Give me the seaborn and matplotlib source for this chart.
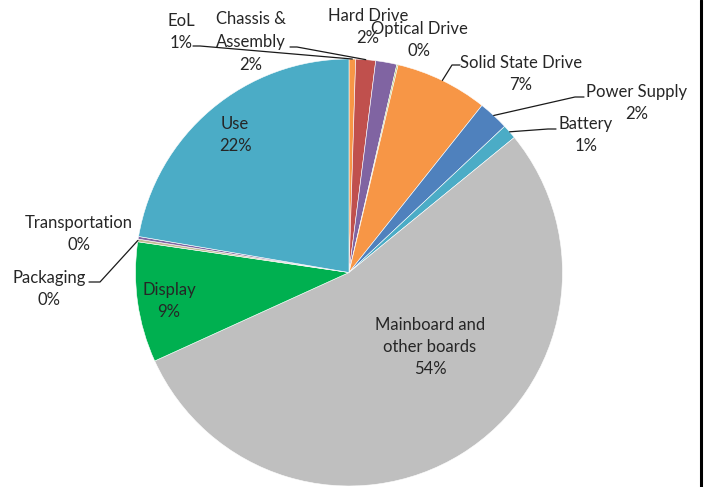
import numpy as np
import matplotlib
matplotlib.use("Agg")
import matplotlib.pyplot as plt
import seaborn as sns

# ---- data ----
categories = ["EoL", "Chassis &\nAssembly", "Hard Drive", "Optical Drive",
              "Solid State Drive", "Power Supply", "Battery",
              "Mainboard and\nother boards", "Display", "Packaging",
              "Transportation", "Use"]
shares = [0.5, 1.5, 1.6, 0.1, 7.0, 2.3, 1.1, 54.1, 9.1, 0.2, 0.2, 22.3]
pct_labels = ["1%", "2%", "2%", "0%", "7%", "2%", "1%", "54%", "9%", "0%", "0%", "22%"]
colors = ["#F79646", "#C0504D", "#8064A2", "#9BBB59", "#F79646", "#4F81BD",
          "#4BACC6", "#BFBFBF", "#00B050", "#C4BD97", "#8064A2", "#4BACC6"]

sns.set_theme(style="white")
plt.rcParams['font.family'] = ['Lato', 'DejaVu Sans']

W, H = 706, 487
fig = plt.figure(figsize=(W / 100, H / 100), dpi=100)
cx, cy, R = 349, 272.5, 213.5
ax = fig.add_axes([(cx - R) / W, (H - cy - R) / H, 2 * R / W, 2 * R / H])

wedges, _ = ax.pie(shares, colors=colors, startangle=90, counterclock=False,
                   radius=1, wedgeprops=dict(linewidth=0.4, edgecolor="white"))
ax.set_xlim(-1, 1)
ax.set_ylim(-1, 1)
ax.set_aspect("equal")
ax.axis("off")

TXT = "#262626"
FS = 12


def fpx(x, y):
    return (x / W, 1 - y / H)


def edge_point(i, r=1.0):
    w = wedges[i]
    a = np.deg2rad((w.theta1 + w.theta2) / 2)
    return r * np.cos(a), r * np.sin(a)


# label positions (pixel centres), per category index
label_pos = {
    0: (181, 32),
    1: (251, 42),
    2: (368, 27),
    3: (419, 40),
    4: (521, 74),
    5: (637, 103),
    6: (586, 135),
    7: (430, 347),
    8: (169, 301),
    9: (49, 289),
    10: (79, 234),
    11: (235, 135),
}
for i, (x, y) in label_pos.items():
    fig.text(*fpx(x, y), f"{categories[i]}\n{pct_labels[i]}", ha="center",
             va="center", fontsize=FS, color=TXT, linespacing=1.5)

# leader lines: (start of horizontal tick, end of tick) in pixels -> wedge edge
leaders = {
    0: ((193, 46), (200, 46)),
    1: ((290, 47), (297, 47)),
    4: ((460, 65), (452, 65)),
    5: ((584, 97), (575, 97)),
    6: ((556, 129), (548, 129)),
    9: ((89, 282), (100, 282)),
}
for i, (p0, p1) in leaders.items():
    ex, ey = edge_point(i)
    disp = ax.transData.transform((ex, ey))
    fx, fy = fig.transFigure.inverted().transform(disp)
    a0 = fpx(*p0)
    a1 = fpx(*p1)
    fig.add_artist(plt.Line2D([a0[0], a1[0], fx], [a0[1], a1[1], fy],
                              transform=fig.transFigure, color="#1a1a1a", lw=0.9))

# right border line
fig.add_artist(plt.Line2D([700.5 / W, 700.5 / W], [0, 1], transform=fig.transFigure,
                          color="black", lw=2.2))

fig.savefig("out.png", dpi=100)
